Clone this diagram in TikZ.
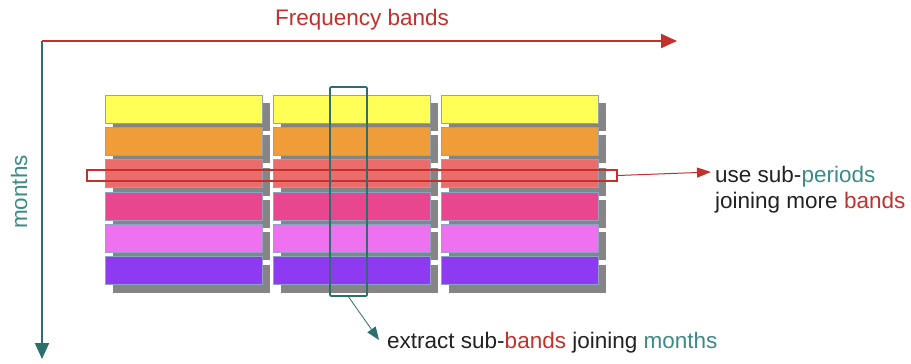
\documentclass[tikz,border=0pt]{standalone}
\usepackage{fontspec}
\setmainfont{Liberation Sans}
\usepackage{tikz}
\usetikzlibrary{positioning}
\usetikzlibrary{shadows}
\usetikzlibrary{arrows.meta}

\definecolor{yellowband}{HTML}{FFFF55}
\definecolor{orangeband}{HTML}{EE9D38}
\definecolor{redband}{HTML}{EC6B6B}
\definecolor{pinkband}{HTML}{E8478F}
\definecolor{violetband}{HTML}{EE71EF}
\definecolor{purpleband}{HTML}{8D3AF0}
\definecolor{shadowgray}{HTML}{858585}
\definecolor{bandborder}{HTML}{8DA3C2}
\definecolor{axisred}{HTML}{C4302B}
\definecolor{axisteal}{HTML}{2D6E6E}
\definecolor{tealtext}{HTML}{3D8B87}
\definecolor{darktext}{HTML}{222222}

\begin{document}
\begin{tikzpicture}[x=1pt, y=-1pt]

  \tikzstyle{band}=[rectangle, minimum width = 157pt, minimum height = 28pt, inner sep = 0pt, draw = bandborder, line width = 0.8pt, drop shadow = {shadow xshift = 8pt, shadow yshift = -8pt, fill = shadowgray, opacity = 1}]
  \tikzstyle{redaxis}=[draw = axisred, line width = 2pt, -{Triangle[length = 16pt, width = 14pt]}]
  \tikzstyle{tealaxis}=[draw = axisteal, line width = 2pt, -{Triangle[length = 16pt, width = 14pt]}]
  \tikzstyle{label}=[font = \fontsize{22.5}{26}\selectfont, inner sep = 2pt]

  \useasboundingbox[fill = white] (0,0) rectangle (911,364);

  % axes
  \coordinate (origin) at (42,41);
  \coordinate (freqend) at (677,41);
  \coordinate (monthend) at (42,359);
  \draw[tealaxis] (origin) -- (monthend);
  \draw[redaxis] (origin) -- (freqend);
  \node[label, text = axisred] (freq) at (362,20) {Frequency bands};
  \node[label, text = tealtext, rotate = 90] (months) at (19,192) {months};

  % bands, one column per frequency band
  \node[band, fill = yellowband] (yellow1) at (183.5,109) {};
  \node[band, fill = yellowband] (yellow2) [right = 10.2pt of yellow1] {};
  \node[band, fill = yellowband] (yellow3) [right = 10.2pt of yellow2] {};
  \node[band, fill = orangeband] (orange1) [below = 3.5pt of yellow1] {};
  \node[band, fill = orangeband] (orange2) [below = 3.5pt of yellow2] {};
  \node[band, fill = orangeband] (orange3) [below = 3.5pt of yellow3] {};
  \node[band, fill = redband] (red1) [below = 3.5pt of orange1] {};
  \node[band, fill = redband] (red2) [below = 3.5pt of orange2] {};
  \node[band, fill = redband] (red3) [below = 3.5pt of orange3] {};
  \node[band, fill = pinkband] (pink1) [below = 3.5pt of red1] {};
  \node[band, fill = pinkband] (pink2) [below = 3.5pt of red2] {};
  \node[band, fill = pinkband] (pink3) [below = 3.5pt of red3] {};
  \node[band, fill = violetband] (violet1) [below = 3.5pt of pink1] {};
  \node[band, fill = violetband] (violet2) [below = 3.5pt of pink2] {};
  \node[band, fill = violetband] (violet3) [below = 3.5pt of pink3] {};
  \node[band, fill = purpleband] (purple1) [below = 3.5pt of violet1] {};
  \node[band, fill = purpleband] (purple2) [below = 3.5pt of violet2] {};
  \node[band, fill = purpleband] (purple3) [below = 3.5pt of violet3] {};

  % selections
  \node[draw = axisred, line width = 1.8pt, minimum width = 530pt, minimum height = 11pt, inner sep = 0pt] (period) at (352,175.5) {};
  \node[draw = axisteal, line width = 1.6pt, rounded corners = 1pt, minimum width = 37pt, minimum height = 209pt, inner sep = 0pt] (subband) at (348.5,191.5) {};

  % explanations
  \node[label, text = darktext, align = left, anchor = west] (periodtext) at (713,190) {use sub-\textcolor{tealtext}{periods}\\joining more \textcolor{axisred}{bands}};
  \node[label, text = darktext, anchor = west] (extracttext) at (385,343) {extract sub-\textcolor{axisred}{bands} joining \textcolor{tealtext}{months}};

  \draw[draw = axisred, line width = 1pt, -{Triangle[length = 14pt, width = 10pt]}] (period.east) -- ([xshift = -2pt, yshift = 18pt]periodtext.west);
  \draw[draw = axisteal, line width = 0.8pt, -{Triangle[length = 13pt, width = 10pt]}] (subband.south) -- ([xshift = -6pt, yshift = 3pt]extracttext.west);

\end{tikzpicture}
\end{document}
